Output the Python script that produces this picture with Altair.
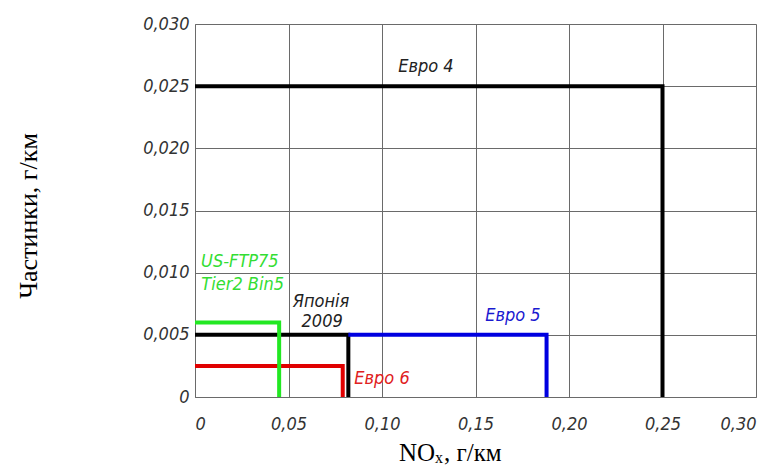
import altair as alt
import pandas as pd

# ---- data ----
series = ["Євро 6", "Японія 2009", "Євро 5", "US-FTP75", "Євро 4"]
colors = ["#e00000", "#000000", "#0000e0", "#22e822", "#000000"]
xs = [
    [0.0, 0.079, 0.079],
    [0.0, 0.082, 0.082],
    [0.082, 0.188, 0.188],
    [0.0, 0.045, 0.045],
    [0.0, 0.25, 0.25],
]
ys = [
    [0.0025, 0.0025, 0.0],
    [0.005, 0.005, 0.0],
    [0.005, 0.005, 0.0],
    [0.006, 0.006, 0.0],
    [0.025, 0.025, 0.0],
]

label_texts = ["Евро 4", "Евро 5", "Евро 6", "Японія", "2009", "US-FTP75", "Tier2 Bin5"]
label_x = [0.1235, 0.170, 0.100, 0.0674, 0.068, 0.024, 0.0255]
label_y = [0.02653, 0.0065, 0.00145, 0.00764, 0.00603, 0.01085, 0.0090]
label_colors = ["#222222", "#1a1ad0", "#e02020", "#222222", "#222222", "#33dd33", "#33dd33"]

x_ticks = [0, 0.05, 0.10, 0.15, 0.20, 0.25, 0.30]
y_ticks = [0, 0.005, 0.010, 0.015, 0.020, 0.025, 0.030]

rows = []
for i, (s, xl, yl) in enumerate(zip(series, xs, ys)):
    for j, (a, b) in enumerate(zip(xl, yl)):
        rows.append({"series": s, "idx": i, "order": j, "x": a, "y": b})
lines_df = pd.DataFrame(rows)

labels_df = pd.DataFrame({"text": label_texts, "x": label_x, "y": label_y, "c": label_colors})

tick_font = "'DejaVu Sans Condensed', 'Roboto', sans-serif"

xscale = alt.Scale(domain=[0, 0.30], nice=False, zero=False)
yscale = alt.Scale(domain=[0, 0.030], nice=False, zero=False)

xaxis = alt.Axis(
    values=x_ticks,
    labelExpr="datum.value == 0 ? '0' : replace(format(datum.value, '.2f'), '.', ',')",
    title=None, grid=True, gridColor="#6a6a6a", gridWidth=1, gridOpacity=1,
    domainColor="#6a6a6a", ticks=False, labelPadding=18,
    labelFont=tick_font, labelFontStyle="italic", labelFontSize=18, labelColor="#333333",
)
yaxis = alt.Axis(
    values=y_ticks,
    labelExpr="datum.value == 0 ? '0' : replace(format(datum.value, '.3f'), '.', ',')",
    title=None, grid=True, gridColor="#6a6a6a", gridWidth=1, gridOpacity=1,
    domainColor="#6a6a6a", ticks=False, labelPadding=6,
    labelFont=tick_font, labelFontStyle="italic", labelFontSize=18, labelColor="#333333",
)

lines = alt.Chart(lines_df).mark_line(strokeWidth=4, strokeCap="butt", strokeJoin="miter").encode(
    x=alt.X("x:Q", scale=xscale, axis=xaxis),
    y=alt.Y("y:Q", scale=yscale, axis=yaxis),
    color=alt.Color("series:N", scale=alt.Scale(domain=series, range=colors), legend=None),
    detail="idx:N",
    order="order:O",
)

labels = alt.Chart(labels_df).mark_text(
    font=tick_font, fontStyle="italic", fontSize=18, align="center", baseline="middle"
).encode(
    x=alt.X("x:Q", scale=xscale),
    y=alt.Y("y:Q", scale=yscale),
    text="text:N",
    color=alt.Color("c:N", scale=None),
)

title_df = pd.DataFrame({"t": ["Частинки, г/км"]})
ytitle = alt.Chart(title_df).mark_text(
    font="Liberation Serif", fontSize=26, angle=270, align="center", baseline="middle", color="black"
).encode(x=alt.value(-166), y=alt.value(192), text="t:N")

xt1 = alt.Chart(pd.DataFrame({"t": ["NO"]})).mark_text(
    font="Liberation Serif", fontSize=25, align="right", baseline="alphabetic", color="black"
).encode(x=alt.value(240), y=alt.value(437), text="t:N")
xt2 = alt.Chart(pd.DataFrame({"t": ["x"]})).mark_text(
    font="Liberation Serif", fontSize=16, align="left", baseline="alphabetic", color="black"
).encode(x=alt.value(240), y=alt.value(439), text="t:N")
xt3 = alt.Chart(pd.DataFrame({"t": [", г/км"]})).mark_text(
    font="Liberation Serif", fontSize=25, align="left", baseline="alphabetic", color="black"
).encode(x=alt.value(249), y=alt.value(437), text="t:N")

chart = alt.layer(lines, labels, ytitle, xt1, xt2, xt3).properties(
    width=561, height=373,
    autosize=alt.AutoSizeParams(type="none"),
    padding={"left": 187, "top": 16, "right": 10, "bottom": 70},
).configure_view(stroke="#6a6a6a", strokeWidth=1).configure(background="white")

chart.save("out.html", embed_options={"renderer": "svg", "actions": False})
